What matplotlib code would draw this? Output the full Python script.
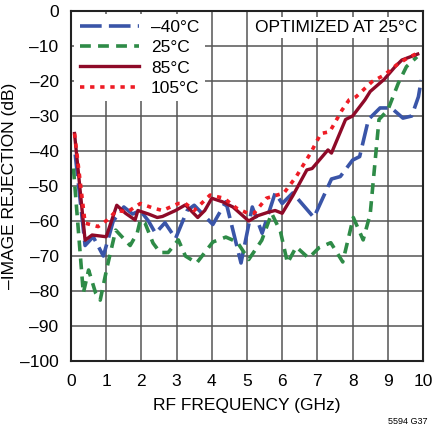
import matplotlib
matplotlib.use("Agg")
import matplotlib.pyplot as plt

plt.rcParams['font.family'] = ['Liberation Sans Narrow', 'Liberation Sans', 'DejaVu Sans']

# -40C
x_m40 = [0.12, 0.4, 0.63, 0.92, 1.2, 1.5, 1.75, 1.97, 2.2, 2.4, 2.67, 2.97, 3.3, 3.5,
         4.03, 4.4, 4.83, 5.15, 5.43, 5.8, 6.0, 6.3, 6.9, 7.4, 7.65, 8.0, 8.2, 8.45,
         8.78, 9.1, 9.43, 9.68, 9.87, 9.95]
y_m40 = [-41, -67, -64.5, -70, -60, -56, -58, -57, -60, -63.5, -60.5, -65, -57, -55.5,
         -61, -54.5, -72, -56, -63.5, -52, -55, -52, -59, -48, -47.3, -42.6, -41.6, -31,
         -27.7, -27.7, -30.6, -30, -24.5, -19.7]

# 25C
x_25 = [0.07, 0.35, 0.5, 0.7, 0.83, 1.03, 1.27, 1.4, 1.68, 1.88, 1.97, 2.1, 2.33, 2.53,
        2.76, 3.05, 3.25, 3.57, 4.03, 4.4, 4.72, 5.05, 5.42, 5.7, 5.95, 6.15, 6.4, 6.75,
        7.05, 7.38, 7.72, 8.02, 8.3, 8.5, 8.75, 9.0, 9.3, 9.53, 9.83]
y_25 = [-45, -80.6, -74, -80.6, -82.6, -73, -62.6, -64, -67, -63.5, -59.7, -60.5, -66.3, -69,
        -69, -65.4, -70, -72, -66, -64.6, -66, -71, -65.5, -57.8, -63, -72, -67.4, -70.6,
        -67.6, -66.2, -71.7, -59, -65.4, -58, -31, -28.3, -20.6, -15.9, -13.1]

# 85C
x_85 = [0.1, 0.4, 0.6, 1.0, 1.3, 1.55, 1.82, 1.9, 2.2, 2.45, 2.6, 2.97, 3.25, 3.6, 3.8,
        4.0, 4.3, 4.6, 5.05, 5.3, 5.6, 5.8, 6.0, 6.3, 6.7, 6.85, 7.3, 7.4, 7.8, 8.0, 8.35,
        8.5, 8.9, 9.2, 9.4, 9.85]
y_85 = [-35, -65.5, -64, -64.5, -55.5, -57.8, -59.7, -57, -58, -59, -58.7, -57, -55.4, -59, -57,
        -53.5, -54.5, -56, -60, -58.5, -57.5, -57, -57.8, -52.8, -45.4, -45, -39.7, -40.6, -31, -30,
        -25.4, -23, -19.5, -16, -14, -12.3]

# 105C
x_105 = [0.1, 0.4, 0.77, 1.03, 1.3, 1.6, 1.97, 2.33, 2.6, 3.05, 3.25, 3.5, 3.95, 4.35, 4.7,
         5.0, 5.2, 5.55, 6.05, 6.4, 6.8, 7.1, 7.35, 7.7, 7.9, 8.1, 8.55, 8.9, 9.25, 9.55, 9.85]
y_105 = [-35, -60.6, -61.6, -59.7, -57, -57.4, -55, -56.3, -57, -55, -55, -57, -52.6, -53.5, -56.3,
         -57.7, -57.8, -53.5, -52, -47.3, -40.7, -35, -34.5, -28.3, -25.4, -24.5, -20.2, -18.3,
         -15.4, -13.5, -12]

x_ticks = list(range(0, 11))
y_ticks = list(range(-100, 1, 10))
y_tick_labels = [("\u2013%d" % -v) if v < 0 else "0" for v in y_ticks]

fig = plt.figure(figsize=(4.32, 4.29), dpi=100)
ax = fig.add_axes([71 / 432, 1 - 361 / 429, 352 / 432, 350 / 429])

ax.plot(x_m40, y_m40, color="#3a55a8", lw=2.6, dashes=(6, 2), label="\u201340\u00b0C")
ax.plot(x_25, y_25, color="#2e8b47", lw=2.6, dashes=(3, 2), label="25\u00b0C")
ax.plot(x_85, y_85, color="#8e0a28", lw=2.4, label="85\u00b0C")
ax.plot(x_105, y_105, color="#ee1c25", lw=2.6, dashes=(1.2, 1.6), label="105\u00b0C")

ax.set_xlim(0, 10)
ax.set_ylim(-100, 0)
ax.set_xticks(x_ticks)
ax.set_yticks(y_ticks)
ax.set_yticklabels(y_tick_labels)
ax.tick_params(axis="x", length=0, labelsize=12.5, pad=9)
ax.tick_params(axis="y", length=0, labelsize=12.5, pad=9)
ax.grid(True, color="#555555", lw=1.1)
ax.set_axisbelow(True)
for s in ax.spines.values():
    s.set_linewidth(1.5)
    s.set_color("#222222")

ax.set_xlabel("RF FREQUENCY (GHz)", fontsize=12.5, labelpad=7)
ax.set_ylabel("\u2013IMAGE REJECTION (dB)", fontsize=12.5, labelpad=2)

leg = ax.legend(loc="upper left", frameon=True, fontsize=12.5, handlelength=3.4,
                borderaxespad=0.2, labelspacing=0.3, handletextpad=0.7,
                fancybox=False, borderpad=0.3)
leg.get_frame().set_edgecolor("none")
leg.get_frame().set_facecolor("white")
leg.get_frame().set_alpha(1)

ax.text(9.85, -2.5, "OPTIMIZED AT 25\u00b0C", ha="right", va="top", fontsize=12.5,
        bbox=dict(facecolor="white", edgecolor="none", pad=2))

fig.text(408 / 432, 1 - 422 / 429, "5594 G37", ha="center", va="center", fontsize=6.5)

fig.savefig("out.png", dpi=100)
